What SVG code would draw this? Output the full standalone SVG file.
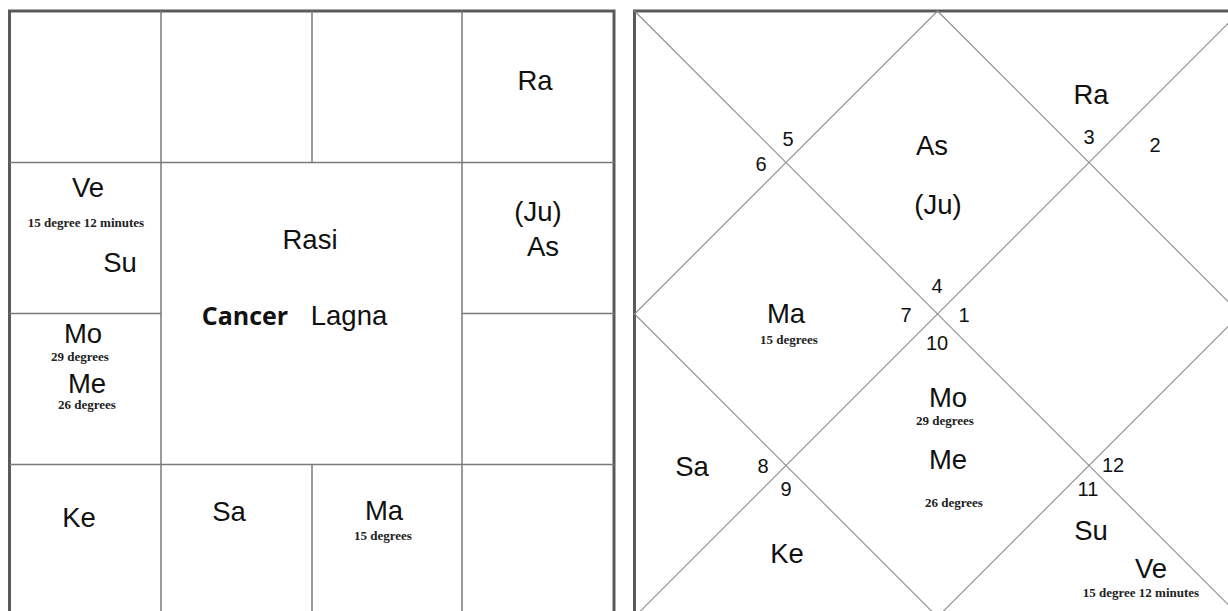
<svg xmlns="http://www.w3.org/2000/svg" width="1228" height="611" viewBox="0 0 1228 611">
<style>
.bg{fill:#ffffff}
.frame{fill:none;stroke:#5a5a5a;stroke-width:3}
.grid{stroke:#7a7a7a;stroke-width:1.5;fill:none}
.diag{stroke:#8c8c8c;stroke-width:1.1;fill:none}
.p{font-family:"Liberation Sans",Arial,sans-serif;font-size:27.5px;fill:#111;text-anchor:middle}
.n{font-family:"Liberation Sans",Arial,sans-serif;font-size:20px;fill:#111;text-anchor:middle}
.d{font-family:"Liberation Serif","Times New Roman",serif;font-weight:bold;font-size:13px;fill:#222;text-anchor:middle}
.b{font-family:"Open Sans","Liberation Sans",sans-serif;font-weight:bold;font-size:25px;fill:#111;text-anchor:middle}
</style>
<rect class="bg" x="0" y="0" width="1228" height="611"/>

<g id="rasi-lines">
<rect class="frame" x="9.5" y="11" width="604.5" height="604.5"/>
<line class="grid" x1="9.5" y1="162.5" x2="614" y2="162.5"/>
<line class="grid" x1="9.5" y1="464.5" x2="614" y2="464.5"/>
<line class="grid" x1="9.5" y1="313.5" x2="161" y2="313.5"/>
<line class="grid" x1="462" y1="313.5" x2="614" y2="313.5"/>
<line class="grid" x1="161" y1="11" x2="161" y2="615"/>
<line class="grid" x1="462" y1="11" x2="462" y2="615"/>
<line class="grid" x1="312" y1="11" x2="312" y2="162.5" stroke="#999"/>
<line class="grid" x1="312" y1="464.5" x2="312" y2="615" stroke="#999"/>
</g>

<g id="rasi-cell-ra"><text class="p" x="535" y="90">Ra</text></g>
<g id="rasi-cell-ve-su">
<text class="p" x="88" y="197">Ve</text>
<text class="d" x="86" y="227" font-size="12.5">15 degree 12 minutes</text>
<text class="p" x="120" y="272">Su</text>
</g>
<g id="rasi-center">
<text class="p" x="310" y="249">Rasi</text>
<text class="b" x="245" y="325">Cancer</text>
<text class="p" x="349" y="325">Lagna</text>
</g>
<g id="rasi-cell-ju-as">
<text class="p" x="538" y="221">(Ju)</text>
<text class="p" x="543" y="256">As</text>
</g>
<g id="rasi-cell-mo-me">
<text class="p" x="83" y="343">Mo</text>
<text class="d" x="80" y="361">29 degrees</text>
<text class="p" x="87" y="393">Me</text>
<text class="d" x="87" y="409">26 degrees</text>
</g>
<g id="rasi-cell-ke"><text class="p" x="79" y="527">Ke</text></g>
<g id="rasi-cell-sa"><text class="p" x="229" y="521">Sa</text></g>
<g id="rasi-cell-ma">
<text class="p" x="384" y="520">Ma</text>
<text class="d" x="383" y="540">15 degrees</text>
</g>

<g id="bhava-lines">
<rect class="frame" x="634.5" y="11" width="606" height="606"/>
<line class="diag" x1="634.5" y1="11" x2="1240.5" y2="617"/>
<line class="diag" x1="1240.5" y1="11" x2="634.5" y2="617"/>
<polygon class="diag" points="937.5,11 1240.5,314 937.5,617 634.5,314"/>
</g>

<g id="house-1">
<text class="p" x="932" y="155">As</text>
<text class="p" x="938" y="214">(Ju)</text>
<text class="n" x="937" y="293">4</text>
</g>
<g id="house-2">
<text class="p" x="1091" y="104">Ra</text>
<text class="n" x="1089" y="144">3</text>
</g>
<g id="house-3"><text class="n" x="1155" y="152">2</text></g>
<g id="house-4">
<text class="n" x="964" y="322">1</text>
</g>
<g id="house-5"><text class="n" x="788" y="146">5</text></g>
<g id="house-6"><text class="n" x="761" y="171">6</text></g>
<g id="house-7">
<text class="p" x="786" y="323">Ma</text>
<text class="d" x="789" y="344">15 degrees</text>
<text class="n" x="906" y="322">7</text>
</g>
<g id="house-8">
<text class="p" x="692" y="476">Sa</text>
<text class="n" x="763" y="473">8</text>
</g>
<g id="house-9">
<text class="n" x="786" y="496">9</text>
<text class="p" x="787" y="563">Ke</text>
</g>
<g id="house-10">
<text class="n" x="937" y="350">10</text>
<text class="p" x="948" y="407">Mo</text>
<text class="d" x="945" y="425">29 degrees</text>
<text class="p" x="948" y="469">Me</text>
<text class="d" x="954" y="507">26 degrees</text>
</g>
<g id="house-11">
<text class="n" x="1088" y="496">11</text>
<text class="p" x="1091" y="540">Su</text>
<text class="p" x="1151" y="578">Ve</text>
<text class="d" x="1141" y="597">15 degree 12 minutes</text>
</g>
<g id="house-12"><text class="n" x="1113" y="472">12</text></g>
</svg>
